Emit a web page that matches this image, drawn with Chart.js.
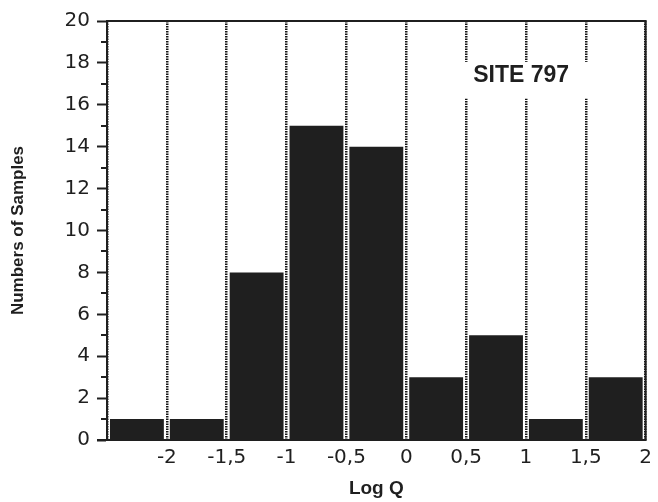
<!DOCTYPE html>
<html>
<head>
<meta charset="utf-8">
<script src="https://cdn.jsdelivr.net/npm/chart.js@4"></script>
<style>
  html, body { margin: 0; padding: 0; background: #fff; }
  #wrap { width: 658px; height: 502px; }
</style>
</head>
<body>
<div id="wrap"><canvas id="histChart"></canvas></div>
<script>
// Log Q histogram, bins of 0.5 from -2.5 to 2
const binCenters = [-2.25, -1.75, -1.25, -0.75, -0.25, 0.25, 0.75, 1.25, 1.75];
const sampleCounts = [1, 1, 8, 15, 14, 3, 5, 1, 3];
const xTickValues = [-2, -1.5, -1, -0.5, 0, 0.5, 1, 1.5, 2];
const yTickValues = [0, 2, 4, 6, 8, 10, 12, 14, 16, 18, 20];
const siteLabel = 'SITE 797';

const ink = '#1f1f1f';
const tickFont = { family: 'DejaVu Sans', size: 20 };
const titleFamily = '"Liberation Sans", Arial, sans-serif';

// frame on top/right, bottom axis, minor y ticks and the site label
const extras = {
  id: 'extras',
  afterDraw(chart) {
    const { ctx, chartArea: a, scales } = chart;
    const y = scales.y, x = scales.x;
    ctx.save();
    ctx.strokeStyle = ink;
    ctx.lineWidth = 2;
    ctx.beginPath();
    ctx.moveTo(a.left, a.top);
    ctx.lineTo(a.right, a.top);
    ctx.lineTo(a.right, a.bottom);
    ctx.lineTo(a.left - 10, a.bottom);
    ctx.stroke();

    // minor ticks on odd counts
    for (let v = 1; v < 20; v += 2) {
      const py = Math.round(y.getPixelForValue(v));
      ctx.beginPath();
      ctx.moveTo(a.left - 6, py);
      ctx.lineTo(a.left, py);
      ctx.stroke();
    }

    // label on a white patch that breaks the dotted lines
    const px0 = x.getPixelForValue(0.46), px1 = x.getPixelForValue(1.55);
    const py0 = y.getPixelForValue(18.05), py1 = y.getPixelForValue(16.3);
    ctx.fillStyle = '#fff';
    ctx.fillRect(px0, py0, px1 - px0, py1 - py0);
    ctx.font = 'bold 23px ' + titleFamily;
    ctx.fillStyle = ink;
    ctx.textAlign = 'center';
    ctx.textBaseline = 'middle';
    ctx.fillText(siteLabel, x.getPixelForValue(0.96), y.getPixelForValue(17.4));
    ctx.restore();
  }
};

new Chart(document.getElementById('histChart'), {
  type: 'bar',
  data: {
    datasets: [{
      data: binCenters.map((c, i) => ({ x: c, y: sampleCounts[i] })),
      backgroundColor: ink,
      borderWidth: 0,
      barPercentage: 0.9,
      categoryPercentage: 1
    }]
  },
  options: {
    responsive: true,
    maintainAspectRatio: false,
    animation: false,
    layout: { padding: { left: 0, right: 11, top: 21, bottom: 0 } },
    plugins: { legend: { display: false }, tooltip: { enabled: false } },
    scales: {
      x: {
        type: 'linear',
        min: -2.5,
        max: 2,
        offset: false,
        afterFit(scale) { scale.height = 62; },
        afterBuildTicks(scale) {
          scale.ticks = [-2.5].concat(xTickValues).map(v => ({ value: v }));
        },
        ticks: {
          color: ink,
          font: tickFont,
          padding: 6,
          maxRotation: 0,
          autoSkip: false,
          callback: v => (v === -2.5 ? '' : String(v).replace('.', ','))
        },
        grid: {
          offset: false,
          color: '#151515',
          lineWidth: 2.5,
          drawTicks: false
        },
        // dotted bin edges
        border: { display: false, dash: [1.5, 1] },
        title: {
          display: true,
          text: 'Log Q',
          color: ink,
          font: { family: titleFamily, size: 19, weight: 'bold' },
          padding: { top: 0, bottom: 2 }
        }
      },
      y: {
        min: 0,
        max: 20,
        afterFit(scale) { scale.width = 107; },
        afterBuildTicks(scale) {
          scale.ticks = yTickValues.map(v => ({ value: v }));
        },
        ticks: {
          color: ink,
          font: tickFont,
          padding: 7
        },
        grid: {
          drawOnChartArea: false,
          tickLength: 10,
          tickWidth: 2,
          tickColor: ink
        },
        border: { color: ink, width: 2 },
        title: {
          display: true,
          text: 'Numbers of Samples',
          color: ink,
          font: { family: titleFamily, size: 17, weight: 'bold' },
          padding: { top: 8, bottom: 0 }
        }
      }
    }
  },
  plugins: [extras]
});
</script>
</body>
</html>
